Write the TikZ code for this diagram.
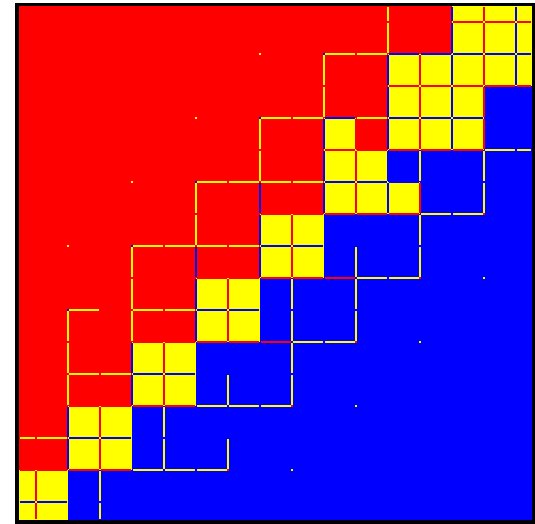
\documentclass[tikz,border=0pt]{standalone}
\definecolor{R}{RGB}{255,0,0}
\definecolor{Y}{RGB}{255,255,0}
\definecolor{B}{RGB}{0,0,255}
\tikzset{
 seg/.style={line width=2pt, shorten <=1pt, shorten >=1pt},
 ly/.style={seg, draw=Y},
 lr/.style={seg, draw=R},
 lb/.style={seg, draw=B}
}
\newcommand\hs[4]{\draw[#1] (#3,#2) -- (#4,#2);}
\newcommand\vs[4]{\draw[#1] (#2,#3) -- (#2,#4);}
\newcommand\dt[2]{\fill[Y] (#1-1.2,#2-1.2) rectangle (#1+1.2,#2+1.2);}
\newcommand\cdt[3]{\fill[#1] (#2-1.1,#3-1.1) rectangle (#2+1.1,#3+1.1);}
\begin{document}
\begin{tikzpicture}[x=1pt,y=-1pt]
\useasboundingbox (0,0) rectangle (535,524);
\fill[white] (0,0) rectangle (535,524);
\fill[black] (15,3) rectangle (535,524);
\fill[R] (19,6) rectangle (532,520);
\fill[B] (532,86) -- (484,86) -- (484,150) -- (388,150) -- (388,182) -- (420,182) -- (420,214) -- (324,214) -- (324,278) -- (260,278) -- (260,342) -- (196,342) -- (196,406) -- (132,406) -- (132,470) -- (68,470) -- (68,520) -- (532,520) -- cycle;
\fill[Y] (19,470) rectangle (68,520);
\fill[Y] (68,406) rectangle (132,470);
\fill[Y] (132,342) rectangle (196,406);
\fill[Y] (196,278) rectangle (260,342);
\fill[Y] (260,214) rectangle (324,278);
\fill[Y] (324,118) rectangle (356,214);
\fill[Y] (356,150) rectangle (388,214);
\fill[Y] (388,182) rectangle (420,214);
\fill[Y] (388,54) rectangle (484,150);
\fill[Y] (484,54) rectangle (532,86);
\fill[Y] (452,6) rectangle (532,54);
% red region lines
\vs{ly}{388}{6}{22} \vs{ly}{388}{22}{54}
\hs{ly}{54}{324}{356} \hs{ly}{54}{356}{388}
\vs{ly}{324}{54}{86} \vs{ly}{324}{86}{118}
\hs{ly}{118}{260}{292} \hs{ly}{118}{292}{324} \hs{ly}{118}{356}{388}
\vs{ly}{260}{118}{150} \vs{ly}{260}{150}{182}
\vs{lb}{260}{182}{214}
\hs{ly}{182}{196}{228} \hs{ly}{182}{228}{260} \hs{ly}{182}{260}{292} \hs{ly}{182}{292}{324}
\vs{ly}{196}{182}{214} \vs{ly}{196}{214}{246}
\vs{lb}{196}{246}{278}
\hs{ly}{246}{132}{164} \hs{ly}{246}{164}{196} \hs{ly}{246}{196}{228} \hs{ly}{246}{228}{260}
\vs{ly}{132}{246}{278} \vs{ly}{132}{278}{310} \vs{ly}{132}{310}{342}
\hs{ly}{310}{68}{100} \hs{ly}{310}{132}{164} \hs{ly}{310}{164}{196}
\vs{ly}{68}{310}{342} \vs{ly}{68}{342}{374} \vs{ly}{68}{374}{406}
\hs{ly}{374}{68}{100} \hs{ly}{374}{100}{132}
\hs{ly}{438}{19}{36} \hs{ly}{438}{36}{68}
\dt{260}{54} \dt{196}{118} \dt{132}{182} \dt{68}{246}
\cdt{B}{324}{54} \cdt{B}{260}{118} \cdt{B}{196}{182} \cdt{B}{132}{246} \cdt{B}{68}{310}
% diagonal blocks
\vs{lr}{36}{470}{502} \vs{lr}{36}{502}{520} \hs{lb}{502}{19}{36} \hs{lb}{502}{36}{68}
\vs{lr}{100}{406}{438} \vs{lr}{100}{438}{470} \hs{lb}{438}{68}{100} \hs{lb}{438}{100}{132}
\vs{lr}{164}{342}{374} \vs{lr}{164}{374}{406} \hs{lb}{374}{132}{164} \hs{lb}{374}{164}{196}
\vs{lr}{228}{278}{310} \vs{lr}{228}{310}{342} \hs{lb}{310}{196}{228} \hs{lb}{310}{228}{260}
\vs{lr}{292}{214}{246} \vs{lr}{292}{246}{278} \hs{lb}{246}{260}{292} \hs{lb}{246}{292}{324}
\vs{lb}{68}{406}{438} \vs{lb}{68}{438}{470}
\vs{lb}{132}{342}{374} \vs{lb}{132}{374}{406}
\vs{lb}{196}{278}{310} \vs{lb}{196}{310}{342}
\vs{lb}{260}{214}{246} \vs{lb}{260}{246}{278}
\hs{lr}{470}{19}{36} \hs{lr}{470}{36}{68}
\hs{lr}{470}{68}{100} \hs{lr}{470}{100}{132}
\hs{lr}{406}{68}{100} \hs{lr}{406}{100}{132}
\hs{lr}{406}{132}{164} \hs{lr}{406}{164}{196}
\hs{lr}{342}{132}{164} \hs{lr}{342}{164}{196}
\hs{lr}{342}{196}{228} \hs{lr}{342}{228}{260} \hs{lr}{342}{260}{292}
\hs{lr}{278}{196}{228} \hs{lr}{278}{228}{260}
\hs{lr}{278}{260}{292} \hs{lr}{278}{292}{324} \hs{lr}{278}{324}{356}
\hs{lr}{214}{260}{292} \hs{lr}{214}{292}{324}
% block c10-c12, r4-r6
\vs{lb}{324}{118}{150} \vs{lb}{324}{150}{182} \vs{lb}{324}{182}{214}
\vs{lr}{356}{118}{150} \vs{lr}{356}{150}{182} \vs{lr}{356}{182}{214}
\vs{lb}{388}{150}{182} \vs{lb}{388}{182}{214}
\vs{lr}{420}{182}{214}
\hs{lb}{118}{324}{356}
\hs{lr}{150}{324}{356} \hs{lr}{150}{356}{388}
\hs{lb}{182}{324}{356} \hs{lb}{182}{356}{388} \hs{lb}{182}{388}{420}
\hs{lr}{214}{324}{356} \hs{lr}{214}{356}{388} \hs{lr}{214}{388}{420}
% top right blocks
\hs{lr}{22}{452}{484} \hs{lr}{22}{484}{516} \hs{lr}{22}{516}{532}
\vs{lb}{452}{6}{22} \vs{lb}{452}{22}{54}
\vs{lr}{484}{6}{22} \vs{lr}{484}{22}{54}
\vs{lb}{516}{6}{22} \vs{lb}{516}{22}{54}
\hs{lb}{54}{388}{420} \hs{lb}{54}{420}{452} \hs{lb}{54}{452}{484} \hs{lb}{54}{484}{516} \hs{lb}{54}{516}{532}
\vs{lb}{388}{54}{86} \vs{lb}{388}{86}{118} \vs{lb}{388}{118}{150}
\vs{lr}{420}{54}{86} \vs{lr}{420}{86}{118} \vs{lr}{420}{118}{150}
\vs{lb}{452}{54}{86} \vs{lb}{452}{86}{118} \vs{lb}{452}{118}{150}
\vs{lr}{484}{54}{86} \vs{lr}{484}{86}{118} \vs{lr}{484}{118}{150}
\vs{lb}{516}{54}{86}
\hs{lr}{86}{388}{420} \hs{lr}{86}{420}{452} \hs{lr}{86}{452}{484} \hs{lr}{86}{484}{516} \hs{lr}{86}{516}{532}
\hs{lb}{118}{388}{420} \hs{lb}{118}{420}{452} \hs{lb}{118}{452}{484}
\hs{lr}{150}{388}{420} \hs{lr}{150}{420}{452} \hs{lr}{150}{452}{484}
% blue region lines
\vs{ly}{100}{470}{502} \vs{ly}{100}{502}{520}
\hs{ly}{470}{132}{164} \hs{ly}{470}{164}{196} \hs{ly}{470}{196}{228}
\vs{ly}{164}{406}{438} \vs{ly}{164}{438}{470}
\vs{ly}{228}{438}{470} \vs{ly}{228}{374}{406}
\hs{ly}{406}{196}{228} \hs{ly}{406}{228}{260} \hs{ly}{406}{260}{292}
\vs{ly}{292}{278}{310} \vs{ly}{292}{310}{342} \vs{ly}{292}{342}{374} \vs{ly}{292}{374}{406}
\hs{ly}{342}{292}{324} \hs{ly}{342}{324}{356}
\vs{ly}{356}{246}{278} \vs{ly}{356}{278}{310} \vs{ly}{356}{310}{342}
\hs{ly}{278}{356}{388} \hs{ly}{278}{388}{420}
\vs{ly}{420}{214}{246} \vs{ly}{420}{246}{278}
\hs{ly}{214}{420}{452} \hs{ly}{214}{452}{484}
\hs{ly}{150}{484}{516} \hs{ly}{150}{516}{532}
\vs{ly}{484}{150}{182} \vs{ly}{484}{182}{214}
\vs{ly}{420}{150}{182}
\dt{484}{278} \dt{420}{342} \dt{356}{406} \dt{292}{470}
\cdt{R}{484}{214} \cdt{R}{420}{278} \cdt{R}{356}{342} \cdt{R}{292}{406} \cdt{R}{228}{470}
\end{tikzpicture}
\end{document}
